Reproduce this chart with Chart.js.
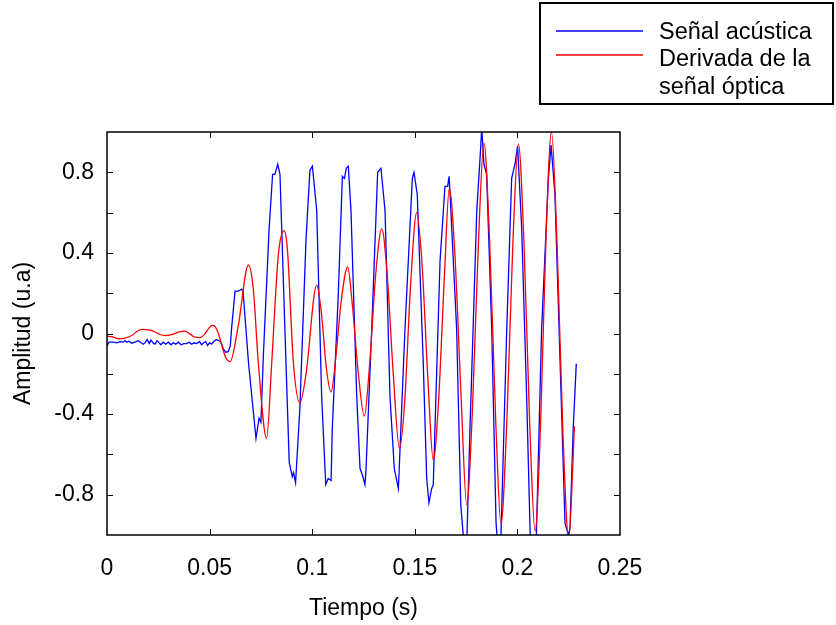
<!DOCTYPE html>
<html>
<head>
<meta charset="utf-8">
<script src="https://cdn.jsdelivr.net/npm/chart.js@4.4.0/dist/chart.umd.min.js"></script>
<style>
  html, body { margin: 0; padding: 0; background: #fff; }
  canvas { display: block; }
</style>
</head>
<body>
<canvas id="chart" width="836" height="625" style="width:836px;height:625px"></canvas>
<script>
// Señal acústica (azul): tiempo (s) y amplitud (u.a)
let blueT = [0, 0.0010, 0.0031, 0.0047, 0.0063, 0.0080, 0.0088, 0.0096, 0.0107, 0.0120, 0.0136, 0.0153, 0.0166, 0.0177, 0.0188, 0.0196, 0.0206, 0.0214, 0.0226, 0.0234, 0.0244, 0.0253, 0.0263, 0.0274, 0.0286, 0.0299, 0.0312, 0.0323, 0.0335, 0.0348, 0.0361, 0.0374, 0.0387, 0.0400, 0.0413, 0.0425, 0.0438, 0.0451, 0.0461, 0.0471, 0.0481, 0.0490, 0.0500, 0.0510, 0.0520, 0.0533, 0.0546, 0.0555, 0.0567, 0.0578, 0.0591, 0.0601, 0.0607,
  0.0624, 0.0640, 0.0656, 0.0663, 0.0690, 0.0726, 0.0741, 0.0750, 0.0762, 0.0790, 0.0807, 0.0818, 0.0832, 0.0843, 0.0867, 0.0888, 0.0903, 0.0909, 0.0919, 0.0940, 0.0970, 0.0989, 0.1001, 0.1022, 0.1046, 0.1066, 0.1078, 0.1092, 0.1098, 0.1127, 0.1147, 0.1157, 0.1166, 0.1176, 0.1189, 0.1217, 0.1233, 0.1244, 0.1257, 0.1262, 0.1290, 0.1319, 0.1335, 0.1355, 0.1379, 0.1400, 0.1420, 0.1452, 0.1488, 0.1496, 0.1512, 0.1541, 0.1558, 0.1569, 0.1582, 0.1590, 0.1623, 0.1647, 0.1660, 0.1667, 0.1672, 0.1704, 0.1724, 0.1740, 0.1753, 0.1769, 0.1802, 0.1821, 0.1826, 0.1837, 0.1850, 0.1875, 0.1896, 0.1905, 0.1919, 0.1948, 0.1972, 0.1988, 0.2001, 0.2021, 0.2045, 0.2063, 0.2077, 0.2092, 0.2118, 0.2151, 0.2164, 0.2183, 0.2208, 0.2232, 0.2248, 0.2256, 0.2272, 0.2287];
let blueY = [-0.063, -0.043, -0.043, -0.046, -0.040, -0.043, -0.035, -0.043, -0.038, -0.048, -0.043, -0.036, -0.046, -0.053, -0.043, -0.030, -0.050, -0.033, -0.048, -0.053, -0.036, -0.046, -0.056, -0.043, -0.053, -0.043, -0.056, -0.046, -0.053, -0.043, -0.056, -0.050, -0.050, -0.043, -0.053, -0.046, -0.050, -0.040, -0.056, -0.046, -0.040, -0.060, -0.046, -0.053, -0.040, -0.030, -0.036, -0.043, -0.076, -0.093, -0.090, -0.060, 0.023,
  0.21, 0.21, 0.22, 0.21, -0.15, -0.52, -0.42, -0.44, -0.11, 0.52, 0.79, 0.79, 0.84, 0.79, 0.02, -0.64, -0.71, -0.69, -0.74, -0.37, 0.47, 0.81, 0.83, 0.61, -0.31, -0.75, -0.72, -0.73, -0.47, 0.19, 0.78, 0.77, 0.82, 0.83, 0.61, -0.31, -0.67, -0.70, -0.75, -0.68, 0.02, 0.80, 0.82, 0.61, -0.31, -0.67, -0.77, 0.02, 0.77, 0.80, 0.69, -0.14, -0.72, -0.84, -0.77, -0.75, 0.36, 0.73, 0.73, 0.78, 0.69, 0.02, -0.85, -1.05, -1.05, -0.47, 0.61, 0.92, 1.02, 0.84, 0.79, 0.02, -0.94, -1.06, -1.04, 0.02, 0.77, 0.84, 0.93, 0.52, -0.31, -1.02, -1.10, -1.02, 0.02, 0.77, 0.935, 0.69, -0.14, -0.94, -1.00, -0.97, -0.47, -0.15];

// Derivada de la señal óptica (rojo)
let redT = [0, 0.0023, 0.0055, 0.0088, 0.0120, 0.0153, 0.0177, 0.0201, 0.0226, 0.0258, 0.0283, 0.0315, 0.0348, 0.0380, 0.0404, 0.0429, 0.0453, 0.0477, 0.0497, 0.0513, 0.0529, 0.0546, 0.0562, 0.0578, 0.0600, 0.0640, 0.0689, 0.0713, 0.0737, 0.0778, 0.0803, 0.0835, 0.0863, 0.0879, 0.0908, 0.0940, 0.0970, 0.1022, 0.1045, 0.1070, 0.1092, 0.1115, 0.1140, 0.1173, 0.1195, 0.1225, 0.1254, 0.1280, 0.1310, 0.1339, 0.1365, 0.1395, 0.1425, 0.1450, 0.1480, 0.1509, 0.1535, 0.1565, 0.1590, 0.1615, 0.1645, 0.1668, 0.1695, 0.1725, 0.1753, 0.1780, 0.1810, 0.1837, 0.1865, 0.1895, 0.1920, 0.1948, 0.1978, 0.2005, 0.2032, 0.2060, 0.2086, 0.2113, 0.2140, 0.2166, 0.2193, 0.2222, 0.2250, 0.2278];
let redY = [-0.013, -0.016, -0.026, -0.023, -0.010, 0.015, 0.020, 0.018, 0.012, -0.005, -0.010, -0.005, 0.007, 0.012, -0.002, -0.018, -0.020, -0.002, 0.027, 0.040, 0.030, -0.010, -0.068, -0.118, -0.140, 0.040, 0.340, 0.220, -0.140, -0.520, -0.140, 0.390, 0.510, 0.420, -0.140, -0.345, -0.200, 0.240, 0.10, -0.18, -0.29, -0.12, 0.15, 0.33, 0.15, -0.20, -0.41, -0.15, 0.30, 0.52, 0.30, -0.20, -0.57, -0.35, 0.25, 0.60, 0.35, -0.25, -0.63, -0.35, 0.30, 0.72, 0.40, -0.30, -0.85, -0.40, 0.45, 0.945, 0.45, -0.45, -0.945, -0.45, 0.45, 0.94, 0.45, -0.45, -0.98, -0.45, 0.50, 1.00, 0.45, -0.50, -1.02, -0.46];

let xTicks = [0, 0.05, 0.1, 0.15, 0.2, 0.25];
let yLabelled = [-0.8, -0.4, 0, 0.4, 0.8];
let legendLines = [["Señal acústica"], ["Derivada de la", "señal óptica"]];

const FONT = "'Liberation Sans', Arial, Helvetica, sans-serif";

function pts(ts, ys) { return ts.map((t, i) => ({ x: t, y: ys[i] })); }

// marco con marcas hacia dentro y leyenda en caja
const framePlugin = {
  id: "frame",
  afterDraw(chart) {
    const { ctx, chartArea: a, scales } = chart;
    ctx.save();
    ctx.strokeStyle = "#000";
    ctx.lineWidth = 1;
    ctx.beginPath();
    scales.y.ticks.forEach(t => {
      if (Math.abs(Math.abs(t.value) - 1) < 1e-6) return;
      let py = Math.round(scales.y.getPixelForValue(t.value)) + 0.5;
      ctx.moveTo(a.left, py); ctx.lineTo(a.left + 6, py);
      ctx.moveTo(a.right, py); ctx.lineTo(a.right - 6, py);
    });
    scales.x.ticks.forEach(t => {
      if (t.value < 1e-6 || t.value > 0.25 - 1e-6) return;
      let px = Math.round(scales.x.getPixelForValue(t.value)) + 0.5;
      ctx.moveTo(px, a.bottom); ctx.lineTo(px, a.bottom - 6);
      ctx.moveTo(px, a.top); ctx.lineTo(px, a.top + 6);
    });
    ctx.stroke();
    ctx.lineWidth = 1.5;
    ctx.strokeRect(a.left, a.top, a.right - a.left, a.bottom - a.top);

    // leyenda
    ctx.lineWidth = 2;
    ctx.strokeRect(540, 3, 293, 101);
    ctx.font = "23.5px " + FONT;
    ctx.fillStyle = "#000";
    ctx.textBaseline = "alphabetic";
    let lineY = [31, 55];
    let textY = [[38.5], [65.5, 94]];
    chart.data.datasets.forEach((ds, i) => {
      ctx.strokeStyle = ds.borderColor;
      ctx.lineWidth = 1.5;
      ctx.beginPath();
      ctx.moveTo(556, lineY[i]); ctx.lineTo(643, lineY[i]);
      ctx.stroke();
      legendLines[i].forEach((txt, j) => ctx.fillText(txt, 659, textY[i][j]));
    });
    ctx.restore();
  }
};

new Chart(document.getElementById("chart"), {
  type: "line",
  data: {
    datasets: [
      { label: "Señal acústica", data: pts(blueT, blueY), borderColor: "#0000ff", borderWidth: 1.3, tension: 0, order: 1 },
      { label: "Derivada de la señal óptica", data: pts(redT, redY), borderColor: "#ff0000", borderWidth: 1.3, cubicInterpolationMode: "monotone", order: 0 }
    ]
  },
  options: {
    responsive: false,
    animation: false,
    parsing: false,
    layout: { padding: { left: 0, top: 132, right: 216, bottom: 0 } },
    elements: { point: { radius: 0 } },
    plugins: { legend: { display: false }, tooltip: { enabled: false } },
    scales: {
      x: {
        type: "linear", min: 0, max: 0.25,
        grid: { display: false, drawTicks: false },
        border: { display: false },
        afterBuildTicks: s => { s.ticks = xTicks.map(v => ({ value: v })); },
        ticks: { padding: 20, color: "#000", font: { family: FONT, size: 23 }, maxRotation: 0, autoSkip: false,
          callback: v => String(Math.round(v * 100) / 100) },
        title: { display: true, text: "Tiempo (s)", color: "#000", font: { family: FONT, size: 23 }, padding: { top: 0, bottom: 3 } },
        afterFit: s => { s.height = 90; }
      },
      y: {
        type: "linear", min: -1, max: 1,
        grid: { display: false, drawTicks: false },
        border: { display: false },
        ticks: { stepSize: 0.2, padding: 13, color: "#000", font: { family: FONT, size: 23 }, autoSkip: false,
          callback: v => { let r = Math.round(v * 10) / 10; return yLabelled.includes(r) ? String(r) : ""; } },
        title: { display: true, text: "Amplitud (u.a)", color: "#000", font: { family: FONT, size: 23 }, padding: { top: 10, bottom: 0 } },
        afterFit: s => { s.width = 107; }
      }
    }
  },
  plugins: [framePlugin]
});
</script>
</body>
</html>
